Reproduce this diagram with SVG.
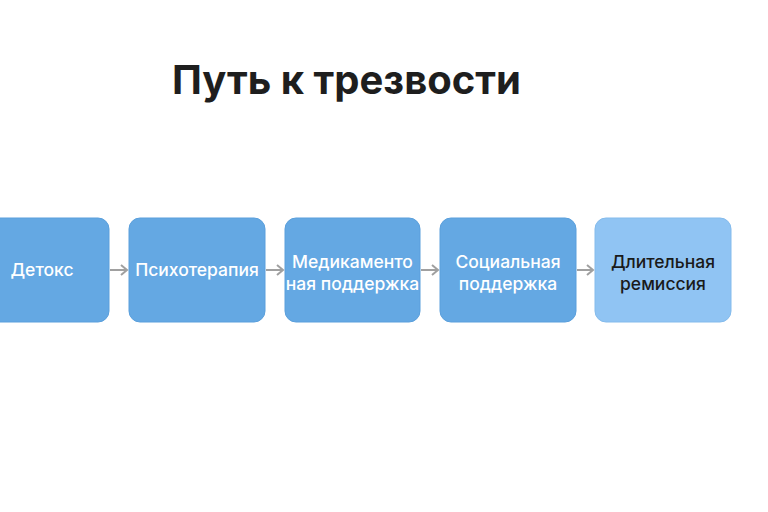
<svg xmlns="http://www.w3.org/2000/svg" width="768" height="512" viewBox="0 0 768 512">
<defs>
<style>
.box{fill:#64a8e3;stroke:#5a9fdc;stroke-width:1}
.final{fill:#90c4f3;stroke:#84bbec;stroke-width:1}
.lbl{font-family:Inter,"Noto Sans",sans-serif;font-size:17.5px;font-weight:500;fill:#ffffff;text-anchor:middle}
.dark{fill:#1a1a1a}
.title{font-family:Inter,"Noto Sans",sans-serif;font-size:40px;font-weight:700;fill:#1e1e1e}
.conn{stroke:#a0a0a0;stroke-width:2;fill:none}
</style>
<marker id="ah" markerWidth="12" markerHeight="12" refX="8" refY="6" orient="auto" markerUnits="userSpaceOnUse">
<path d="M2,1 L8,6 L2,11" fill="none" stroke="#a0a0a0" stroke-width="2"/>
</marker>
</defs>
<rect width="768" height="512" fill="#ffffff"/>
<text class="title" x="172" y="94">Путь к трезвости</text>
<g id="connectors">
<line class="conn" x1="110" y1="270" x2="127" y2="270" marker-end="url(#ah)"/>
<line class="conn" x1="266" y1="270" x2="283" y2="270" marker-end="url(#ah)"/>
<line class="conn" x1="421" y1="270" x2="438" y2="270" marker-end="url(#ah)"/>
<line class="conn" x1="577" y1="270" x2="593" y2="270" marker-end="url(#ah)"/>
</g>
<g id="detox">
<rect class="box" x="-27" y="218" width="136" height="104" rx="11"/>
<text class="lbl" x="42" y="276">Детокс</text>
</g>
<g id="psychotherapy">
<rect class="box" x="129" y="218" width="136" height="104" rx="11"/>
<text class="lbl" x="197" y="276">Психотерапия</text>
</g>
<g id="medication">
<rect class="box" x="285" y="218" width="135" height="104" rx="11"/>
<text class="lbl" x="352.5" y="268">Медикаменто</text>
<text class="lbl" x="352.5" y="290">ная поддержка</text>
</g>
<g id="social">
<rect class="box" x="440" y="218" width="136" height="104" rx="11"/>
<text class="lbl" x="508" y="268">Социальная</text>
<text class="lbl" x="508" y="290">поддержка</text>
</g>
<g id="remission">
<rect class="final" x="595" y="218" width="136" height="104" rx="11"/>
<text class="lbl dark" x="663" y="268">Длительная</text>
<text class="lbl dark" x="663" y="290">ремиссия</text>
</g>
</svg>
